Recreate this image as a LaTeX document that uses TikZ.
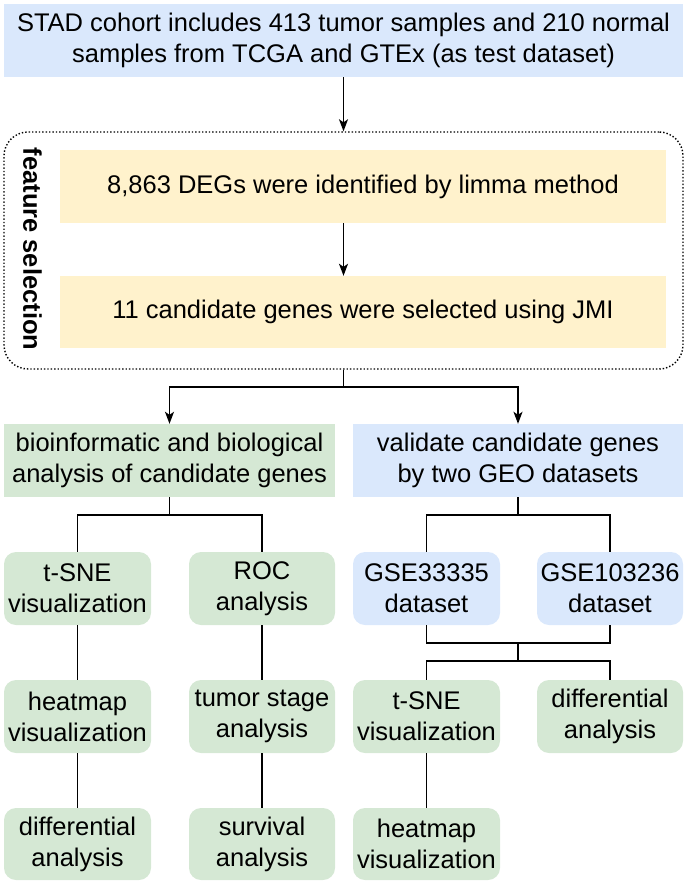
\documentclass[tikz,border=0pt]{standalone}
\usepackage{fontspec}
\setmainfont{Liberation Sans}
\usetikzlibrary{arrows.meta,calc}
\definecolor{bluefill}{HTML}{DAE8FC}
\definecolor{yellowfill}{HTML}{FFF2CC}
\definecolor{greenfill}{HTML}{D5E8D4}
\tikzset{
  x=1pt,y=-1pt,
  box/.style={rectangle,inner sep=0pt,align=center,font=\fontsize{25.5}{31}\selectfont},
  bigbox/.style={box,minimum height=73pt},
  smallbox/.style={box,rounded corners=12pt,minimum height=73pt},
  bluebox/.style={fill=bluefill},
  yellowbox/.style={fill=yellowfill},
  greenbox/.style={fill=greenfill},
  conn/.style={line width=1.4pt,black},
  arr/.style={conn,-{Stealth[length=12pt,width=9pt,inset=3pt]}},
}
\begin{document}
\begin{tikzpicture}
\useasboundingbox (0,0) rectangle (685,885);
% top
\node[bigbox,bluebox,minimum width=679pt] (top) at (343.5,40.5)
  {STAD cohort includes 413 tumor samples and 210 normal\\samples from TCGA and GTEx (as test dataset)};
% feature selection frame
\node[rectangle,draw,dotted,line width=1.4pt,rounded corners=24pt,minimum width=679pt,minimum height=237pt,inner sep=0pt] (fs) at (343.5,250.5) {};
\node[font=\fontsize{25.5}{31}\selectfont\bfseries,rotate=-90,inner sep=0pt] (fslabel) at (32.5,249) {feature selection};
\node[bigbox,yellowbox,minimum width=606pt] (deg) at (363,186.5) {8,863 DEGs were identified by limma method};
\node[bigbox,yellowbox,minimum width=606pt,minimum height=72pt] (jmi) at (363,312) {11 candidate genes were selected using JMI};
% second level
\node[bigbox,greenbox,minimum width=331pt] (bio) at (169.5,460.5) {bioinformatic and biological\\analysis of candidate genes};
\node[bigbox,bluebox,minimum width=330pt] (val) at (518,460.5) {validate candidate genes\\by two GEO datasets};
% row 1
\node[smallbox,greenbox,minimum width=147pt] (tsne1) at (77.5,588.5) {t-SNE\\visualization};
\node[smallbox,greenbox,minimum width=146pt] (roc) at (262,588.5) {ROC\\analysis};
\node[smallbox,bluebox,minimum width=147pt] (gse1) at (426.5,588.5) {GSE33335\\dataset};
\node[smallbox,bluebox,minimum width=146pt] (gse2) at (610,588.5) {GSE103236\\dataset};
% row 2
\node[smallbox,greenbox,minimum width=147pt] (heat1) at (77.5,716.5) {heatmap\\visualization};
\node[smallbox,greenbox,minimum width=146pt] (stage) at (262,716.5) {tumor stage\\analysis};
\node[smallbox,greenbox,minimum width=147pt] (tsne2) at (426.5,716.5) {t-SNE\\visualization};
\node[smallbox,greenbox,minimum width=146pt] (diff2) at (610,716.5) {differential\\analysis};
% row 3
\node[smallbox,greenbox,minimum width=147pt,minimum height=72pt] (diff1) at (77.5,844) {differential\\analysis};
\node[smallbox,greenbox,minimum width=146pt,minimum height=72pt] (surv) at (262,844) {survival\\analysis};
\node[smallbox,greenbox,minimum width=147pt,minimum height=72pt] (heat2) at (426.5,844) {heatmap\\visualization};
% connectors
\draw[arr] (top.south) -- (fs.north);
\draw[arr] (deg.south -| fs.north) -- (jmi.north -| fs.north);
\coordinate (split) at (343.5,387);
\draw[conn] (fs.south) -- (split);
\draw[arr] (split) -| (bio.north);
\draw[arr] (split) -| (val.north);
\coordinate (bsplit) at (169.5,515);
\draw[conn] (bio.south) -- (bsplit);
\draw[conn] (bsplit) -| (tsne1.north);
\draw[conn] (bsplit) -| (roc.north);
\coordinate (vsplit) at (518,515);
\draw[conn] (val.south) -- (vsplit);
\draw[conn] (vsplit) -| (gse1.north);
\draw[conn] (vsplit) -| (gse2.north);
\draw[conn] (tsne1) -- (heat1);
\draw[conn] (heat1) -- (diff1);
\draw[conn] (roc) -- (stage);
\draw[conn] (stage) -- (surv);
\coordinate (gmerge) at (518,643);
\coordinate (gsplit) at (518,661);
\draw[conn] (gse1.south) |- (gmerge) -| (gse2.south);
\draw[conn] (gmerge) -- (gsplit);
\draw[conn] (gsplit) -| (tsne2.north);
\draw[conn] (gsplit) -| (diff2.north);
\draw[conn] (tsne2) -- (heat2);
\end{tikzpicture}
\end{document}
